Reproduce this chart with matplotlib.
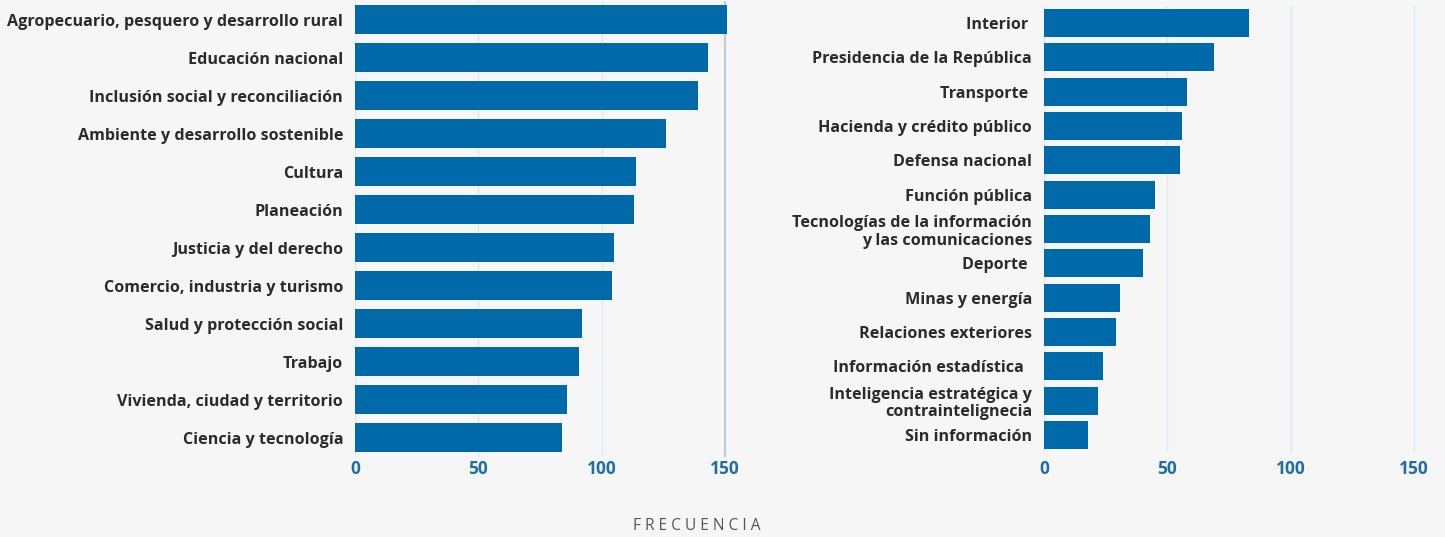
import matplotlib.pyplot as plt

# left panel
cats_left = ['Agropecuario, pesquero y desarrollo rural', 'Educación nacional',
             'Inclusión social y reconciliación', 'Ambiente y desarrollo sostenible',
             'Cultura', 'Planeación', 'Justicia y del derecho',
             'Comercio, industria y turismo', 'Salud y protección social', 'Trabajo',
             'Vivienda, ciudad y territorio', 'Ciencia y tecnología']
vals_left = [151, 143, 139, 126, 114, 113, 105, 104, 92, 91, 86, 84]

# right panel
cats_right = ['Interior ', 'Presidencia de la República', 'Transporte ',
              'Hacienda y crédito público', 'Defensa nacional', 'Función pública',
              'Tecnologías de la información\ny las comunicaciones', 'Deporte ',
              'Minas y energía', 'Relaciones exteriores', 'Información estadística  ',
              'Inteligencia estratégica y\ncontraintelignecia', 'Sin información']
vals_right = [83, 69, 58, 56, 55, 45, 43, 40, 31, 29, 24, 22, 18]

ticks = [0, 50, 100, 150]

bg = '#f6f6f6'
bar_col = '#0069aa'
tick_col = '#1f6ea6'
lab_col = '#2b2b2b'
grid_col = '#dfe7ee'

plt.rcParams['font.family'] = ['Open Sans', 'DejaVu Sans']

W, H = 1445, 537
fig = plt.figure(figsize=(W / 100, H / 100), dpi=100, facecolor=bg)

px = 370 / 150  # pixels per unit


def panel(x0, top, spacing, cats, vals, hfrac, xpad, last_dark=False):
    n = len(cats)
    xmax = 160
    bottom = top + n * spacing
    ax = fig.add_axes([x0 / W, 1 - bottom / H, xmax * px / W, n * spacing / H])
    ax.set_facecolor(bg)
    ax.barh(range(n), vals, height=hfrac, color=bar_col, zorder=3)
    ax.set_ylim(n - 0.5, -0.5)
    ax.set_xlim(0, xmax)
    for t in ticks:
        if last_dark and t == 150:
            ax.axvline(t, color='#b9cfe0', lw=1.6, zorder=1)
        else:
            ax.axvline(t, color=grid_col, lw=1.0, zorder=1)
    ax.set_yticks(range(n))
    ax.set_yticklabels(cats, fontsize=11.6, fontweight='bold', color=lab_col,
                       linespacing=1.15)
    ax.set_xticks(ticks)
    ax.set_xticklabels([str(t) for t in ticks], fontsize=12.5, fontweight='bold',
                       color=tick_col)
    ax.tick_params(axis='both', length=0)
    ax.tick_params(axis='y', pad=8.5)
    ax.tick_params(axis='x', pad=xpad)
    for s in ax.spines.values():
        s.set_visible(False)
    return ax


panel(355, 0.5, 38.0, cats_left, vals_left, 0.77, 2.5, last_dark=True)
panel(1044, 5.8, 34.33, cats_right, vals_right, 0.82, 5.5)

fig.text(697 / W, 1 - 526 / H, ' '.join('FRECUENCIA'), ha='center', va='center',
         fontsize=11.2, color='#555555')

fig.savefig('out.png', dpi=100, facecolor=bg)
